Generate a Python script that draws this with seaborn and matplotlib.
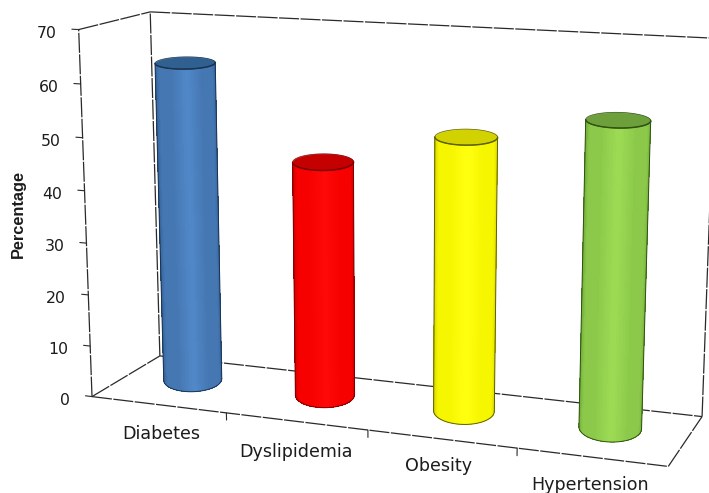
import numpy as np
import matplotlib
matplotlib.use("Agg")
import matplotlib.pyplot as plt
import seaborn as sns
from mpl_toolkits.mplot3d.art3d import Poly3DCollection

categories = ["Diabetes", "Dyslipidemia", "Obesity", "Hypertension"]
percentages = [62.3, 45.2, 51.7, 56.5]
z_ticks = [0, 10, 20, 30, 40, 50, 60, 70]

# edge, body and highlight tones of each cylinder, then its lid and rim colours
body_tones = [
    ("#2a5688", "#4577b2", "#5188c8"),
    ("#b80000", "#f60000", "#ff0808"),
    ("#c0c000", "#f6f600", "#ffff10"),
    ("#5f9a2c", "#8cc94a", "#9ddb55"),
]
lid_tones = ["#30608f", "#c40000", "#d2d200", "#6d9f3a"]
rim_tones = ["#1b3350", "#7a0000", "#5f5f00", "#2f5212"]

sns.set_theme(style="white")
W, H = 709, 493
fig = plt.figure(figsize=(W / 100, H / 100), dpi=100, facecolor="white")
ax = fig.add_axes([26.43 / W, -100.11 / H, 717.92 / W, 717.92 / H],
                  projection="3d", computed_zorder=False)
X_MAX, Y_MAX, Z_MAX = 4, 1, 70
BOX = (4.2827, 1.0813, 2.6691)
ax.set_xlim(0, X_MAX)
ax.set_ylim(0, Y_MAX)
ax.set_zlim(0, Z_MAX)
ax.set_box_aspect(BOX)
ax.view_init(13.05, -69.765)
ax.set_proj_type("persp", focal_length=0.5091)
ax.set_axis_off()

# Camera position in data units: the point the x, y and w rows of the projection send to zero
M = ax.get_proj()
cam = np.linalg.svd(M[[0, 1, 3]])[2][-1]
cam = cam[:3] / cam[3]


def flat(x, y, z):
    """2D axes position of a point of the 3D box."""
    q = M @ np.array([x, y, z, 1.0])
    return q[0] / q[3], q[1] / q[3]


line_kw = dict(color="#2a2a2a", lw=0.9, ls=(0, (16, 1.2)), zorder=1)
X_END = 3.96
edges = [
    ((0, 0, 0), (0, 0, Z_MAX)), ((0, Y_MAX, 0), (0, Y_MAX, Z_MAX)),
    ((0, 0, Z_MAX), (0, Y_MAX, Z_MAX)), ((0, Y_MAX, Z_MAX), (X_END, Y_MAX, Z_MAX)),
    ((0, 0, 0), (0, Y_MAX, 0)), ((0, Y_MAX, 0), (X_END, Y_MAX, 0)),
    ((0, 0, 0), (X_END, 0, 0)), ((X_END, 0, 0), (X_END, Y_MAX, 0)),
    ((X_END, Y_MAX, 0), (X_END, Y_MAX, Z_MAX)),
]
for a, b in edges:
    ax.plot(*zip(a, b), **line_kw)

# Value axis ticks and labels
for z in z_ticks:
    ax.plot([-0.05, 0], [0, 0], [z, z], color="#2a2a2a", lw=0.8, zorder=1)
    ax.annotate(str(z), xy=flat(0, 0, z), xytext=(-16, -2.5), textcoords="offset points",
                ha="right", va="center", fontsize=11.3, color="#1c1c1c")

# Category separators under the front floor edge
for x in range(1, X_MAX):
    ax.plot([x, x], [0, 0], [0, -1.4], color="#2a2a2a", lw=0.8, zorder=1)

RADIUS = 0.215
STRETCH = 1.4  # base ellipse is deepened along the line of sight
for i, (value, tones, lid, rim) in enumerate(zip(percentages, body_tones, lid_tones, rim_tones)):
    cx, cy = 0.47 + i * 0.993, 0.58
    wx = (cam[0] - cx) * BOX[0] / X_MAX
    wy = (cam[1] - cy) * BOX[1] / Y_MAX
    dist = np.hypot(wx, wy)
    to_cam = np.array([wx, wy]) / dist
    across = np.array([-to_cam[1], to_cam[0]])
    to_data = np.array([X_MAX / BOX[0], Y_MAX / BOX[1]])

    def outline(angle):
        off = RADIUS * (np.outer(np.sin(angle), across) + STRETCH * np.outer(np.cos(angle), to_cam))
        return cx + off[:, 0] * to_data[0], cy + off[:, 1] * to_data[1]

    half = np.arccos(STRETCH * RADIUS / dist)
    n = 46
    px, py = outline(np.linspace(-half, half, n))
    ramp = sns.blend_palette([tones[0], tones[1], tones[1], tones[2], tones[1], tones[1], tones[0]],
                             n_colors=n)
    face = np.array(ramp)[None, :, :].repeat(2, axis=0)
    ax.plot_surface(np.vstack([px, px]), np.vstack([py, py]),
                    np.vstack([np.zeros(n), np.full(n, value)]),
                    facecolors=face, rcount=2, ccount=n, shade=False,
                    linewidth=0, antialiased=False, zorder=2)
    # Lid with a dark front rim
    rim_x, rim_y = outline(np.linspace(0, 2 * np.pi, 90))
    ax.add_collection3d(Poly3DCollection([list(zip(rim_x, rim_y, np.full(90, value)))],
                                         facecolor=lid, edgecolor=lid, linewidth=0.5, zorder=3))
    ax.plot(rim_x, rim_y, value, color=rim, lw=0.5, zorder=4)
    ax.plot(px, py, value, color=rim, lw=1.0, zorder=4)
    # Silhouette: both sides and the curved foot
    ax.plot(px, py, 0, color=rim, lw=0.7, zorder=4)
    for k in (0, -1):
        ax.plot([px[k], px[k]], [py[k], py[k]], [0, value], color=rim, lw=0.7, zorder=4)

# Category labels sit on a descending line below the floor
label_xy = [(161, 434), (296, 452), (439, 466), (590, 485)]
for name, (x, y) in zip(categories, label_xy):
    fig.text(x / W, 1 - y / H, name, ha="center", va="center", fontsize=12.6, color="#1c1c1c")

fig.text(18 / W, 1 - 214 / H, "Percentage", rotation=90, ha="center", va="center",
         fontsize=11.8, fontweight="bold", family="Liberation Sans", color="#1c1c1c")

fig.savefig("out.png", dpi=100)
